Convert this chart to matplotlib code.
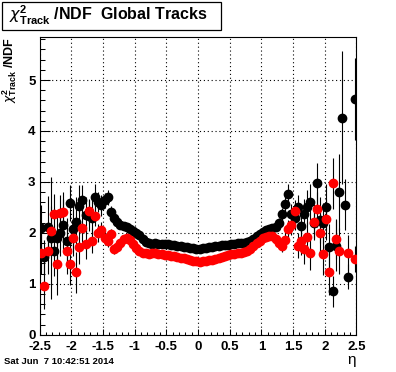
import numpy as np
import matplotlib
matplotlib.use("Agg")
import matplotlib.pyplot as plt
from matplotlib.ticker import MultipleLocator
from matplotlib.patches import Rectangle

# --- histogram binning (100 bins in eta) ---
eta_lo, eta_hi, n_bins = -2.5, 2.5, 100

# chi2/NDF per eta bin, black series
chi2_black = [
    2.10, 1.52, 2.12, 1.90, 1.65, 1.90, 2.00, 2.16, 1.85, 2.59,
    2.07, 2.21, 2.53, 2.64, 2.36, 2.34, 2.30, 2.70, 2.60, 2.54,
    2.64, 2.70, 2.40, 2.30, 2.22, 2.16, 2.13, 2.11, 2.07, 2.04,
    2.00, 1.95, 1.88, 1.82, 1.80, 1.79, 1.80, 1.79, 1.79, 1.78,
    1.78, 1.77, 1.76, 1.75, 1.74, 1.73, 1.72, 1.71, 1.70, 1.69,
    1.69, 1.70, 1.71, 1.72, 1.73, 1.74, 1.75, 1.76, 1.77, 1.77,
    1.78, 1.79, 1.80, 1.80, 1.81, 1.82, 1.84, 1.88, 1.93, 1.98,
    2.02, 2.06, 2.08, 2.10, 2.12, 2.20, 2.37, 2.57, 2.76, 2.37,
    2.30, 2.50, 2.14, 2.37, 2.50, 2.60, 2.19, 2.97, 2.25, 2.19,
    2.51, 1.73, 0.85, 1.75, 2.80, 4.26, 2.55, 1.14, np.nan, 4.63,
]
err_black = [
    0.45, 0.35, 0.60, 1.20, 0.50, 0.55, 0.45, 0.50, 0.45, 0.35,
    0.45, 0.50, 0.40, 0.30, 0.35, 0.30, 0.35, 0.25, 0.20, 0.20,
    0.15, 0.15, 0.12, 0.10, 0.08, 0.07, 0.06, 0.05, 0.05, 0.04,
    0.04, 0.04, 0.03, 0.03, 0.03, 0.03, 0.03, 0.03, 0.03, 0.03,
    0.03, 0.03, 0.03, 0.03, 0.03, 0.03, 0.03, 0.03, 0.03, 0.03,
    0.03, 0.03, 0.03, 0.03, 0.03, 0.03, 0.03, 0.03, 0.03, 0.03,
    0.03, 0.03, 0.03, 0.03, 0.03, 0.03, 0.04, 0.04, 0.04, 0.05,
    0.05, 0.06, 0.06, 0.07, 0.08, 0.10, 0.12, 0.15, 0.20, 0.20,
    0.25, 0.25, 0.30, 0.30, 0.35, 0.35, 0.30, 0.40, 0.45, 0.40,
    0.45, 0.45, 0.30, 0.50, 0.75, 1.30, 0.50, 0.25, np.nan, 0.80,
]

# chi2/NDF per eta bin, red series
chi2_red = [
    1.60, 0.95, 1.65, 2.03, 2.37, 1.39, 2.39, 2.40, 1.65, 1.38,
    1.90, 1.23, 1.73, 2.10, 1.78, 2.42, 1.85, 2.34, 2.00, 2.06,
    1.90, 1.85, 1.98, 1.68, 1.72, 1.80, 1.88, 1.90, 1.86, 1.78,
    1.70, 1.65, 1.61, 1.60, 1.59, 1.60, 1.60, 1.59, 1.58, 1.57,
    1.56, 1.55, 1.54, 1.53, 1.51, 1.50, 1.48, 1.47, 1.45, 1.44,
    1.43, 1.44, 1.45, 1.46, 1.47, 1.49, 1.51, 1.53, 1.55, 1.57,
    1.58, 1.59, 1.60, 1.61, 1.62, 1.64, 1.68, 1.74, 1.80, 1.85,
    1.89, 1.92, 1.94, 1.93, 1.88, 1.80, 1.75, 1.86, 2.07, 2.16,
    2.42, 1.75, 1.85, 1.68, 1.91, 1.60, 2.21, 2.46, 1.99, 1.58,
    2.27, 1.24, 2.97, 1.88, 1.65, np.nan, np.nan, 1.60, np.nan, 1.49,
]
err_red = [
    0.40, 0.45, 0.45, 0.50, 0.40, 0.60, 0.35, 0.40, 0.45, 0.40,
    0.35, 0.40, 0.35, 0.30, 0.30, 0.25, 0.25, 0.20, 0.18, 0.15,
    0.14, 0.12, 0.10, 0.09, 0.08, 0.07, 0.06, 0.05, 0.05, 0.04,
    0.04, 0.04, 0.03, 0.03, 0.03, 0.03, 0.03, 0.03, 0.03, 0.03,
    0.03, 0.03, 0.03, 0.03, 0.03, 0.03, 0.03, 0.03, 0.03, 0.03,
    0.03, 0.03, 0.03, 0.03, 0.03, 0.03, 0.03, 0.03, 0.03, 0.03,
    0.03, 0.03, 0.03, 0.03, 0.03, 0.03, 0.04, 0.04, 0.04, 0.05,
    0.05, 0.06, 0.06, 0.07, 0.08, 0.10, 0.12, 0.15, 0.18, 0.20,
    0.22, 0.25, 0.28, 0.30, 0.30, 0.32, 0.35, 0.35, 0.40, 0.40,
    0.40, 0.45, 0.50, 0.40, 0.45, np.nan, np.nan, 0.35, np.nan, 0.25,
]

title_text = r"$\chi^{2}_{\mathbf{Track}}$ /NDF  Global Tracks"
ylabel_text = r"$\chi^{2}_{\mathbf{Track}}$ /NDF"
xlabel_text = "η"
date_text = "Sat Jun  7 10:42:51 2014"

plt.rcParams["font.family"] = ["Liberation Sans", "DejaVu Sans"]
plt.rcParams["mathtext.fontset"] = "custom"
plt.rcParams["mathtext.rm"] = "Liberation Sans:bold"
plt.rcParams["mathtext.bf"] = "Liberation Sans:bold"
plt.rcParams["mathtext.it"] = "DejaVu Sans:italic"

edges = np.linspace(eta_lo, eta_hi, n_bins + 1)
eta = 0.5 * (edges[:-1] + edges[1:])

fig = plt.figure(figsize=(3.96, 3.72), dpi=100)
ax = fig.add_axes([0.1, 0.1, 0.8, 0.8])

ax.errorbar(eta, chi2_black, yerr=err_black, fmt="o", color="black",
            ecolor="black", elinewidth=0.8, markersize=6.0, capsize=0, zorder=3)
ax.errorbar(eta, chi2_red, yerr=err_red, fmt="o", color="red", mec="red",
            ecolor="black", elinewidth=0.8, markersize=6.0, capsize=0, zorder=4)

ax.set_xlim(eta_lo, eta_hi)
ax.set_ylim(0, 5.84)

ax.xaxis.set_major_locator(MultipleLocator(0.5))
ax.xaxis.set_minor_locator(MultipleLocator(0.1))
ax.yaxis.set_major_locator(MultipleLocator(1))
ax.yaxis.set_minor_locator(MultipleLocator(0.2))
ax.xaxis.set_major_formatter(matplotlib.ticker.FuncFormatter(lambda v, p: f"{v:g}"))
ax.yaxis.set_major_formatter(matplotlib.ticker.FuncFormatter(lambda v, p: f"{v:g}"))

ax.tick_params(axis="x", which="major", direction="in", length=4.2, width=0.75,
               labelsize=9.5, pad=4.5, top=False)
ax.tick_params(axis="x", which="minor", direction="in", length=2.3, width=0.75, top=False)
ax.tick_params(axis="y", which="major", direction="in", length=7, width=0.75,
               labelsize=9.5, pad=3, right=False)
ax.tick_params(axis="y", which="minor", direction="in", length=3.6, width=0.75, right=False)
for lab in ax.get_xticklabels() + ax.get_yticklabels():
    lab.set_fontweight("bold")

ax.grid(True, which="major", color="black", linestyle=(0, (1, 2.5)), linewidth=0.8)
ax.set_axisbelow(True)
for sp in ax.spines.values():
    sp.set_linewidth(0.8)

# title box
fig.patches.append(Rectangle((2 / 396, 1 - 30 / 372), 219 / 396, 28 / 372,
                             transform=fig.transFigure, fill=False,
                             edgecolor="black", linewidth=0.9))
fig.text(9 / 396, 1 - 15 / 372, title_text, ha="left", va="center",
         fontsize=11.5, fontweight="bold")

fig.text(10 / 396, 0.9, ylabel_text, rotation=90, ha="center", va="top",
         fontsize=9, fontweight="bold")
fig.text(356 / 396, 1 - 353 / 372, xlabel_text, ha="right", va="top", fontsize=11)
fig.text(4 / 396, 1 - 362 / 372, date_text, ha="left", va="center",
         fontsize=6.8, fontweight="bold")

fig.savefig("out.png", dpi=100)
